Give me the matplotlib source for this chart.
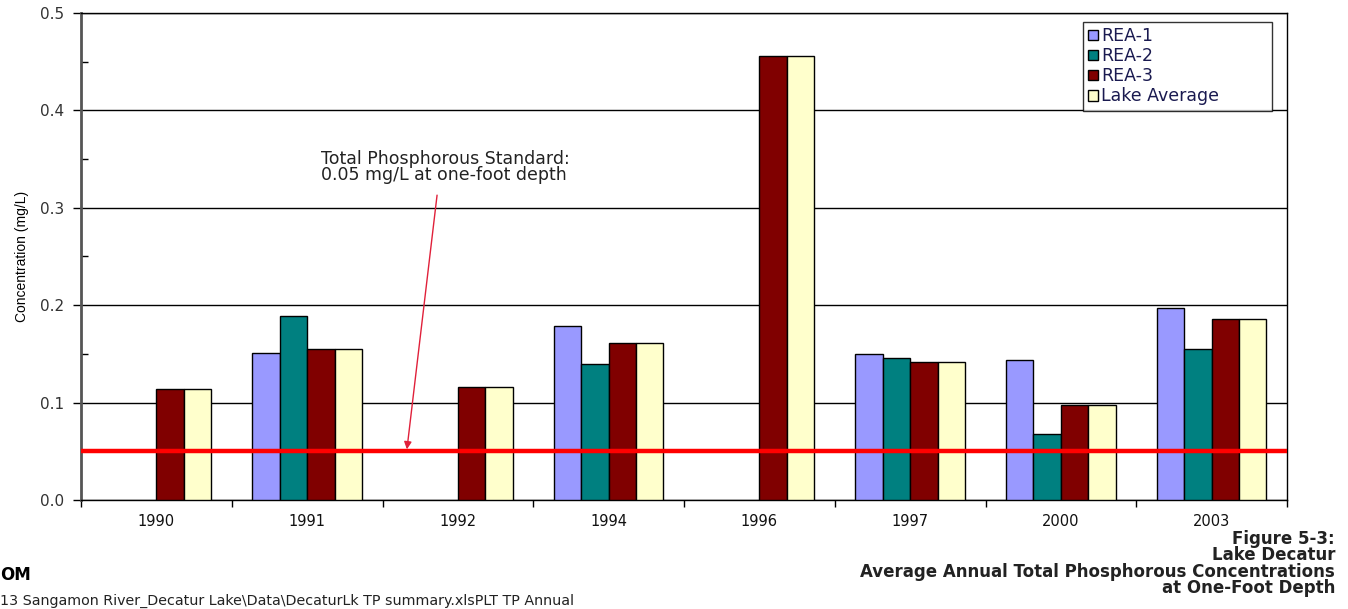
import numpy as np
import matplotlib
matplotlib.use("Agg")
import matplotlib.pyplot as plt

years = ["1990", "1991", "1992", "1994", "1996", "1997", "2000", "2003"]
rea1 = [np.nan, 0.151, np.nan, 0.179, np.nan, 0.150, 0.144, 0.197]
rea2 = [np.nan, 0.189, np.nan, 0.140, np.nan, 0.146, 0.068, 0.155]
rea3 = [0.114, 0.155, 0.116, 0.161, 0.456, 0.142, 0.098, 0.186]
lake_avg = [0.114, 0.155, 0.116, 0.161, 0.456, 0.142, 0.098, 0.186]
series_names = ["REA-1", "REA-2", "REA-3", "Lake Average"]
standard = 0.05

colors = ["#9999FF", "#008080", "#800000", "#FFFFCC"]

fig = plt.figure(figsize=(13.48, 6.09), dpi=100)
ax = fig.add_axes([81 / 1348, 109 / 609, 1206 / 1348, 487 / 609])

x = np.arange(len(years))
w = 0.182
for i, (vals, name, c) in enumerate(zip([rea1, rea2, rea3, lake_avg], series_names, colors)):
    ax.bar(x + (i - 1.5) * w, vals, width=w, color=c, edgecolor="black",
           linewidth=1.0, label=name, zorder=3)

ax.axhline(standard, color="#FF0000", linewidth=3.2, zorder=4)

ax.set_xlim(-0.5, len(years) - 0.5)
ax.set_ylim(0, 0.5)
ax.set_yticks(np.arange(0, 0.51, 0.1))
ax.set_yticklabels([f"{v:.1f}" for v in np.arange(0, 0.51, 0.1)], fontsize=11, color="#333333")
ax.set_yticks(np.arange(0.05, 0.5, 0.1), minor=True)
ax.tick_params(axis="y", which="major", direction="out", length=6, width=1, pad=6)
ax.tick_params(axis="y", which="minor", direction="in", length=5, width=1)
ax.yaxis.grid(True, which="major", color="black", linewidth=1.0, zorder=0)
ax.set_axisbelow(True)

ax.set_xticks(x)
ax.set_xticklabels(years, fontsize=10.5, color="#111111")
ax.tick_params(axis="x", which="major", length=0, pad=10)
ax.set_xticks(np.arange(-0.5, len(years), 1.0), minor=True)
ax.tick_params(axis="x", which="minor", direction="out", length=5, width=1)

for s in ["top", "right", "bottom"]:
    ax.spines[s].set_color("black")
    ax.spines[s].set_linewidth(1.0)
ax.spines["left"].set_color("#555555")
ax.spines["left"].set_linewidth(2.0)

ax.set_ylabel("Concentration (mg/L)", family=["Liberation Sans Narrow", "Liberation Sans"],
              fontsize=10, labelpad=8)

ax.annotate("", xy=(1.662, 0.052), xytext=(1.862, 0.313),
            arrowprops=dict(arrowstyle="-|>", color="#E0203A", lw=1.0,
                            mutation_scale=11, shrinkA=0, shrinkB=0), zorder=6)
ax.text(1.092, 0.359, "Total Phosphorous Standard:\n0.05 mg/L at one-foot depth",
        fontsize=12.5, color="#222222", va="top", ha="left", linespacing=0.84)

x0, y0, x1, y1 = 1083 / 1348, 1 - 105 / 609, 1272 / 1348, 1 - 22 / 609
leg = ax.legend(loc="upper left", bbox_to_anchor=(x0, y0, x1 - x0, y1 - y0),
                bbox_transform=fig.transFigure, mode="expand", fontsize=12.5, frameon=True,
                fancybox=False, edgecolor="black", handlelength=0.55, handleheight=0.55,
                handletextpad=0.2, labelspacing=0.12, borderpad=0.3, borderaxespad=0.0)
leg.get_frame().set_linewidth(1.0)
for t in leg.get_texts():
    t.set_color("#1a1a50")

fig.text(1335 / 1348, 1 - 530 / 609,
         "Figure 5-3:\nLake Decatur\nAverage Annual Total Phosphorous Concentrations\nat One-Foot Depth",
         ha="right", va="top", multialignment="right", fontsize=12, fontweight="bold",
         color="#222222", linespacing=0.88)
fig.text(0.0, 1 - 575 / 609, "OM", ha="left", va="center", fontsize=12,
         fontweight="bold", color="black")
fig.text(0.0, 1 - 601 / 609,
         "13 Sangamon River_Decatur Lake\\Data\\DecaturLk TP summary.xlsPLT TP Annual",
         ha="left", va="center", fontsize=10.3, color="#222222")

fig.savefig("out.png", dpi=100)
